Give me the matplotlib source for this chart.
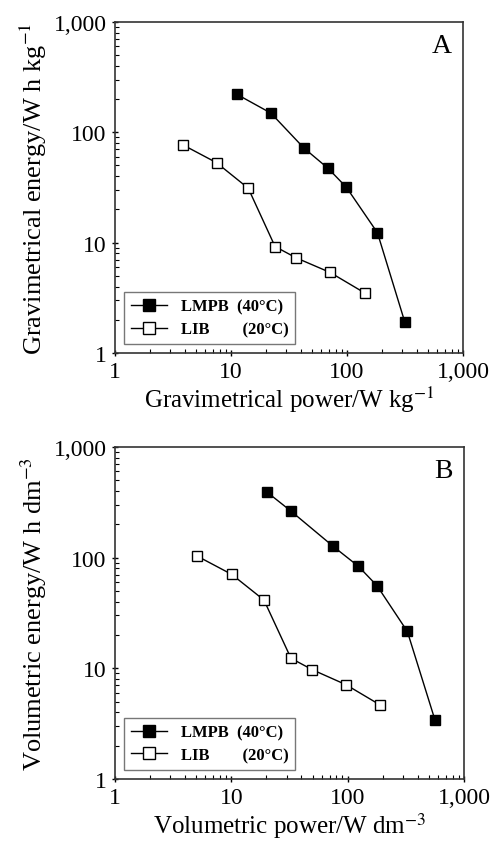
import numpy as np
import matplotlib
matplotlib.use("Agg")
import matplotlib.pyplot as plt
from matplotlib.ticker import FixedLocator, LogLocator, NullFormatter

plt.rcParams['font.family'] = ['Liberation Serif', 'DejaVu Serif']
plt.rcParams['mathtext.fontset'] = 'stix'

# panel A: gravimetric
gravPowerLMPB = [11.2, 22.1, 42.5, 68.7, 98.9, 183, 315]
gravEnergyLMPB = [221, 149, 72, 47.1, 31.7, 12.3, 1.91]
gravPowerLIB = [3.83, 7.51, 14.1, 24.0, 36.5, 71.6, 143]
gravEnergyLIB = [77.1, 53, 31.1, 9.22, 7.28, 5.37, 3.49]

# panel B: volumetric
volPowerLMPB = [20.1, 32.4, 75.3, 124, 179, 326, 563]
volEnergyLMPB = [393, 264, 126, 83.2, 55.6, 21.5, 3.41]
volPowerLIB = [5.1, 10.1, 19.1, 32.6, 49.7, 96.8, 188]
volEnergyLIB = [103, 70.4, 41.3, 12.3, 9.7, 7.1, 4.69]

tickVals = [1, 10, 100, 1000]
tickLabels = ['1', '10', '100', '1,000']
lmpbLabel = 'LMPB  (40°C)'
libLabel = 'LIB        (20°C)'

fig = plt.figure(figsize=(4.91, 8.45), dpi=100)


def makePanel(rect, px1, py1, px2, py2, xlab, ylab, tag):
    ax = fig.add_axes(rect)
    ax.plot(px1, py1, '-s', color='black', lw=1, markersize=7.5,
            markerfacecolor='black', markeredgecolor='black', label=lmpbLabel)
    ax.plot(px2, py2, '-s', color='black', lw=1, markersize=7.5,
            markerfacecolor='white', markeredgecolor='black', label=libLabel)
    ax.set_xscale('log')
    ax.set_yscale('log')
    ax.set_xlim(1, 1000)
    ax.set_ylim(1, 1000)
    for axis in (ax.xaxis, ax.yaxis):
        axis.set_major_locator(FixedLocator(tickVals))
        axis.set_minor_locator(LogLocator(base=10, subs=np.arange(2, 10)))
        axis.set_minor_formatter(NullFormatter())
    ax.set_xticklabels(tickLabels)
    ax.set_yticklabels(tickLabels)
    ax.tick_params(which='major', direction='inout', length=5, width=1,
                   labelsize=17, top=False, right=False)
    ax.tick_params(which='minor', direction='in', length=3, width=0.8,
                   top=False, right=False)
    for s in ax.spines.values():
        s.set_linewidth(1.2)
        s.set_color('#333333')
    ax.set_xlabel(xlab, fontsize=18, labelpad=1)
    ax.set_ylabel(ylab, fontsize=19, labelpad=3)
    ax.text(0.94, 0.93, tag, transform=ax.transAxes, fontsize=20,
            ha='center', va='center')
    leg = ax.legend(loc='lower left', bbox_to_anchor=(0.026, 0.027),
                    borderaxespad=0, fancybox=False, edgecolor='#555555',
                    prop={'weight': 'bold', 'size': 12}, handlelength=2.2,
                    labelspacing=0.4, markerscale=1.1)
    leg.get_frame().set_linewidth(1)
    return ax


makePanel([0.234, 0.581, 0.709, 0.392], gravPowerLMPB, gravEnergyLMPB,
          gravPowerLIB, gravEnergyLIB,
          'Gravimetrical power/W kg$^{-1}$',
          'Gravimetrical energy/W h kg$^{-1}$', 'A')
makePanel([0.234, 0.077, 0.711, 0.393], volPowerLMPB, volEnergyLMPB,
          volPowerLIB, volEnergyLIB,
          'Volumetric power/W dm$^{-3}$',
          'Volumetric energy/W h dm$^{-3}$', 'B')

plt.savefig('out.png', dpi=100)
